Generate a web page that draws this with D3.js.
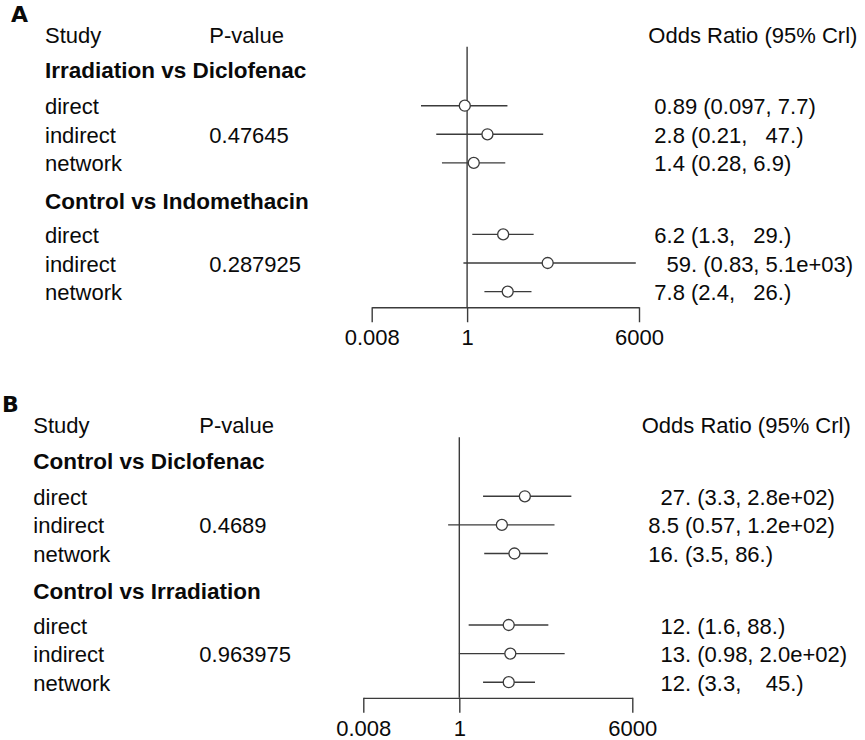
<!DOCTYPE html>
<html>
<head>
<meta charset="utf-8">
<script src="https://cdn.jsdelivr.net/npm/d3@7"></script>
<style>
  body { margin: 0; background: #fff; }
  text { font-family: "Liberation Sans", Arial, sans-serif; fill: #0a0a0a; white-space: pre; }
</style>
</head>
<body>
<div id="container"></div>
<script>
// Data
const panelLetters = ["A", "B"];
const methods = ["direct", "indirect", "network"];

const groupsA = ["Irradiation vs Diclofenac", "Control vs Indomethacin"];
const pValuesA = ["0.47645", "0.287925"];
const oddsA = [0.89, 2.8, 1.4, 6.2, 59, 7.8];
const lowerA = [0.097, 0.21, 0.28, 1.3, 0.83, 2.4];
const upperA = [7.7, 47, 6.9, 29, 5100, 26];
const orLabelsA = [
  "0.89 (0.097, 7.7)", "2.8 (0.21,   47.)", "1.4 (0.28, 6.9)",
  "6.2 (1.3,   29.)", "  59. (0.83, 5.1e+03)", "7.8 (2.4,   26.)"
];

const groupsB = ["Control vs Diclofenac", "Control vs Irradiation"];
const pValuesB = ["0.4689", "0.963975"];
const oddsB = [27, 8.5, 16, 12, 13, 12];
const lowerB = [3.3, 0.57, 3.5, 1.6, 0.98, 3.3];
const upperB = [280, 120, 86, 88, 200, 45];
const orLabelsB = [
  "  27. (3.3, 2.8e+02)", "8.5 (0.57, 1.2e+02)", "16. (3.5, 86.)",
  "  12. (1.6, 88.)", "  13. (0.98, 2.0e+02)", "  12. (3.3,    45.)"
];

const tickValues = [0.008, 1, 6000];
const tickLabels = ["0.008", "1", "6000"];

// Layout of each panel (pixel placement only)
const layouts = [
  { letterX: 11, letterY: 22, top: 42.7, studyX: 45, pX: 209.3, range: [371.7, 639], orX: 654.3, orHeadX: 648.3 },
  { letterX: 2, letterY: 412, top: 433.3, studyX: 33.3, pX: 199.3, range: [363.3, 632.3], orX: 648.3, orHeadX: 641.7 }
];
const panelData = [
  { groups: groupsA, p: pValuesA, or: oddsA, lo: lowerA, hi: upperA, lab: orLabelsA },
  { groups: groupsB, p: pValuesB, or: oddsB, lo: lowerB, hi: upperB, lab: orLabelsB }
];

const svg = d3.select("#container").append("svg")
  .attr("width", 865).attr("height", 740);

const unit = 28.6;          // height of one row
const fontSize = 22;
const lineColor = "#3b3b3b";

// slot positions: header 0, group 1.25, rows 2.5..4.5, group 5.8, rows 7..9
const groupSlots = [1.25, 5.8];
const rowSlots = [2.5, 3.5, 4.5, 7, 8, 9];

panelData.forEach((pd, i) => {
  const L = layouts[i];
  const g = svg.append("g");
  const base = (slot) => L.top + slot * unit;   // text baseline
  const mid = (slot) => base(slot) - 8.5;        // mark centre

  const x = d3.scaleLog().domain([tickValues[0], tickValues[2]]).range(L.range);

  // panel letter
  g.append("text")
    .attr("x", L.letterX).attr("y", L.letterY)
    .style("font-family", "'DejaVu Sans', sans-serif")
    .style("font-weight", "bold").style("font-size", "22px")
    .text(panelLetters[i]);

  // column headers
  const head = [["Study", L.studyX], ["P-value", L.pX], ["Odds Ratio (95% Crl)", L.orHeadX]];
  g.selectAll(".head").data(head).enter().append("text")
    .attr("x", (d) => d[1]).attr("y", base(0))
    .style("font-size", fontSize + "px")
    .text((d) => d[0]);

  // group titles
  g.selectAll(".grp").data(pd.groups).enter().append("text")
    .attr("x", L.studyX).attr("y", (d, j) => base(groupSlots[j]))
    .style("font-size", "22.5px").style("font-weight", "bold")
    .text((d) => d);

  const rows = pd.or.map((v, j) => ({
    method: methods[j % 3], or: v, lo: pd.lo[j], hi: pd.hi[j],
    label: pd.lab[j], p: j % 3 === 1 ? pd.p[Math.floor(j / 3)] : "", slot: rowSlots[j]
  }));

  // row labels
  g.selectAll(".meth").data(rows).enter().append("text")
    .attr("x", L.studyX).attr("y", (d) => base(d.slot))
    .style("font-size", fontSize + "px").text((d) => d.method);
  g.selectAll(".pv").data(rows.filter((d) => d.p)).enter().append("text")
    .attr("x", L.pX).attr("y", (d) => base(d.slot))
    .style("font-size", fontSize + "px").text((d) => d.p);
  g.selectAll(".orl").data(rows).enter().append("text")
    .attr("x", L.orX).attr("y", (d) => base(d.slot))
    .style("font-size", fontSize + "px").text((d) => d.label);

  // axis
  const axisY = base(9.25);
  g.append("g")
    .attr("transform", "translate(0," + axisY + ")")
    .call(d3.axisBottom(x).tickValues(tickValues)
      .tickFormat((d, k) => tickLabels[k]).tickSize(15).tickSizeOuter(0).tickPadding(7.5))
    .call((a) => a.selectAll("path, line").attr("stroke", lineColor).attr("stroke-width", 1.4))
    .call((a) => a.selectAll("text").attr("fill", "#0a0a0a")
      .style("font-family", "'Liberation Sans', Arial, sans-serif").style("font-size", fontSize + "px"));

  // reference line at OR = 1
  g.append("line")
    .attr("x1", x(1)).attr("x2", x(1))
    .attr("y1", base(0) + 4).attr("y2", axisY)
    .attr("stroke", lineColor).attr("stroke-width", 1.4);

  // credible intervals
  g.selectAll(".ci").data(rows).enter().append("line")
    .attr("x1", (d) => x(d.lo)).attr("x2", (d) => x(d.hi))
    .attr("y1", (d) => mid(d.slot)).attr("y2", (d) => mid(d.slot))
    .attr("stroke", lineColor).attr("stroke-width", 1.4);

  // point estimates
  g.selectAll(".pt").data(rows).enter().append("circle")
    .attr("cx", (d) => x(d.or)).attr("cy", (d) => mid(d.slot))
    .attr("r", 5.5)
    .attr("fill", "#fff").attr("stroke", lineColor).attr("stroke-width", 1.3);
});
</script>
</body>
</html>
